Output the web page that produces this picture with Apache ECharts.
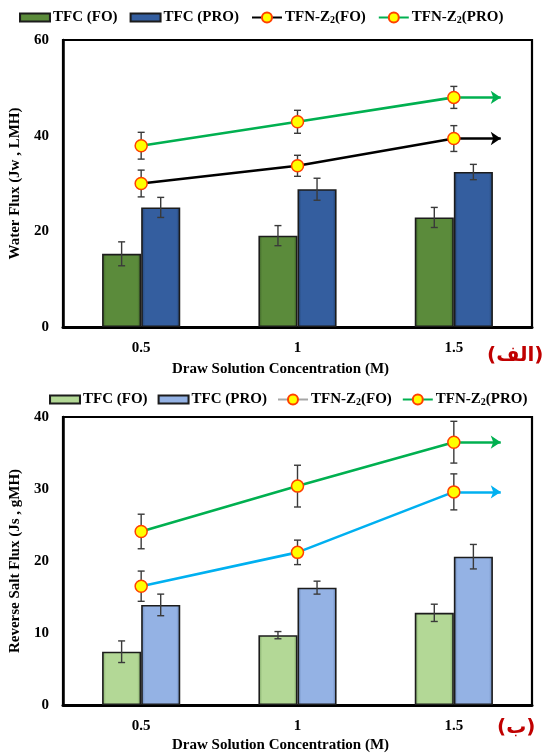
<!DOCTYPE html>
<html>
<head>
<meta charset="utf-8">
<script src="https://cdn.jsdelivr.net/npm/echarts@6/dist/echarts.min.js"></script>
<style>
  html, body { margin: 0; padding: 0; background: #fff; }
  #c1 { width: 545px; height: 380px; }
  #c2 { width: 545px; height: 374px; }
</style>
</head>
<body>
<div id="c1"></div>
<div id="c2"></div>
<script>
// ---------- data ----------
const categories = ['0.5', '1', '1.5'];

// Top panel: water flux (Jw, LMH)
const waterTfcFO      = [15.3, 19.1, 22.9];
const waterTfcFOErr   = [2.5, 2.1, 2.1];
const waterTfcPRO     = [25.0, 28.8, 32.4];
const waterTfcPROErr  = [2.1, 2.3, 1.6];
const waterTfnFO      = [30.0, 33.7, 39.4];
const waterTfnFOErr   = [2.8, 2.2, 2.7];
const waterTfnPRO     = [37.9, 42.9, 48.0];
const waterTfnPROErr  = [2.8, 2.4, 2.3];

// Bottom panel: reverse salt flux (Js, gMH)
const saltTfcFO       = [7.4, 9.7, 12.8];
const saltTfcFOErr    = [1.5, 0.5, 1.2];
const saltTfcPRO      = [13.9, 16.3, 20.6];
const saltTfcPROErr   = [1.5, 0.9, 1.7];
const saltTfnFO       = [16.5, 21.2, 29.6];
const saltTfnFOErr    = [2.1, 1.7, 2.5];
const saltTfnPRO      = [24.1, 30.4, 36.5];
const saltTfnPROErr   = [2.4, 2.9, 2.9];

const topYAxis = { min: 0, max: 60, interval: 20 };
const bottomYAxis = { min: 0, max: 40, interval: 10 };
const arrowEnd = 2.8; // end of the trend arrow on the hidden value x-axis (category i centred at i+0.5)

// ---------- helpers ----------
const SERIF = "'Liberation Serif', 'Times New Roman', serif";
const RECT_ICON = 'path://M0,0L30,0L30,8L0,8Z';

function barGrad(mid, dark) {
  return {
    type: 'linear', x: 0, y: 0, x2: 1, y2: 0,
    colorStops: [
      { offset: 0, color: dark },
      { offset: 0.1, color: mid },
      { offset: 0.9, color: mid },
      { offset: 1, color: dark }
    ]
  };
}

function errBarSeries(vals, errs, offsetFrac, xAxisIndex, onValueAxis) {
  return {
    type: 'custom',
    xAxisIndex: xAxisIndex,
    yAxisIndex: 0,
    z: 3,
    silent: true,
    animation: false,
    data: vals.map((v, i) => [onValueAxis ? i + 0.5 : i, v - errs[i], v + errs[i]]),
    renderItem: function (params, api) {
      const xv = api.value(0);
      const lo = api.coord([xv, api.value(1)]);
      const hi = api.coord([xv, api.value(2)]);
      let x = lo[0];
      if (!onValueAxis) {
        const band = api.size([1, 0])[0];
        x += band * offsetFrac;
      }
      const cap = 3.5;
      const st = { stroke: '#3a3a3a', lineWidth: 1.4 };
      return {
        type: 'group',
        children: [
          { type: 'line', shape: { x1: x, y1: lo[1], x2: x, y2: hi[1] }, style: st },
          { type: 'line', shape: { x1: x - cap, y1: hi[1], x2: x + cap, y2: hi[1] }, style: st },
          { type: 'line', shape: { x1: x - cap, y1: lo[1], x2: x + cap, y2: lo[1] }, style: st }
        ]
      };
    }
  };
}

function lineSeries(name, vals, color) {
  const last = vals[vals.length - 1];
  return {
    name: name,
    type: 'line',
    xAxisIndex: 1,
    yAxisIndex: 0,
    z: 5,
    data: vals.map((v, i) => [i + 0.5, v]),
    symbol: 'circle',
    symbolSize: 12,
    lineStyle: { color: color, width: 2.6 },
    itemStyle: { color: '#FFFF00', borderColor: '#FF4000', borderWidth: 1.5 },
    animation: false,
    markLine: {
      silent: true,
      symbol: ['none', 'arrow'],
      symbolSize: 10,
      label: { show: false },
      lineStyle: { color: color, width: 2.6, type: 'solid' },
      animation: false,
      data: [[{ coord: [vals.length - 0.5, last] }, { coord: [arrowEnd, last] }]]
    }
  };
}

function barSeries(name, vals, mid, dark) {
  return {
    name: name,
    type: 'bar',
    xAxisIndex: 0,
    yAxisIndex: 0,
    barWidth: '25%',
    barGap: '0%',
    z: 2,
    data: vals,
    itemStyle: {
      color: barGrad(mid, dark),
      borderColor: '#1c1c1c',
      borderWidth: 1.6
    },
    animation: false
  };
}

function fmtName(name) {
  const m = name.match(/^TFN-Z2(.*)$/);
  if (m) return '{a|TFN-Z}{s|2}{a|' + m[1] + '}';
  return '{a|' + name + '}';
}

function buildOption(p) {
  return {
    backgroundColor: '#fff',
    animation: false,
    legend: {
      left: p.legendLeft,
      top: p.legendTop,
      itemWidth: 30,
      itemHeight: 12.5,
      itemGap: p.legendGap,
      selectedMode: false,
      data: p.legendData,
      formatter: fmtName,
      textStyle: {
        fontFamily: SERIF, fontWeight: 'bold', fontSize: 15, color: '#000',
        padding: [0, 0, 0, -2],
        rich: {
          a: { fontFamily: SERIF, fontWeight: 'bold', fontSize: 15, color: '#000' },
          s: { fontFamily: SERIF, fontWeight: 'bold', fontSize: 10, color: '#000', verticalAlign: 'bottom', padding: [6, 0, 0, 0] }
        }
      }
    },
    grid: {
      left: 63, right: 13, top: p.gridTop, height: p.gridHeight,
      show: true, borderColor: '#000', borderWidth: 2.2, backgroundColor: 'transparent'
    },
    xAxis: [
      {
        type: 'category',
        data: categories,
        axisLine: { lineStyle: { color: '#000', width: 3 } },
        axisTick: { show: false },
        axisLabel: { color: '#000', fontFamily: SERIF, fontWeight: 'bold', fontSize: 15, margin: 14 },
        splitLine: { show: false }
      },
      { type: 'value', min: 0, max: categories.length, show: false }
    ],
    yAxis: [{
      type: 'value',
      min: p.yAxis.min, max: p.yAxis.max, interval: p.yAxis.interval,
      name: p.yName,
      nameLocation: 'middle',
      nameGap: 31,
      nameTextStyle: { color: '#000', fontFamily: SERIF, fontWeight: 'bold', fontSize: 15 },
      axisLine: { show: true, lineStyle: { color: '#000', width: 2.5 } },
      axisTick: { show: false },
      axisLabel: { color: '#000', fontFamily: SERIF, fontWeight: 'bold', fontSize: 15, margin: 14 },
      splitLine: { show: false }
    }],
    graphic: [
      {
        type: 'text', left: 172, top: p.xTitleTop,
        style: { text: 'Draw Solution Concentration (M)', fill: '#000', font: 'bold 15px ' + SERIF }
      },
      {
        type: 'text', left: p.tagLeft, top: p.tagTop,
        style: { text: p.tag, fill: '#C00000', font: 'bold 20px "DejaVu Sans", sans-serif' }
      }
    ],
    series: p.series
  };
}

// ---------- top chart ----------
const c1 = echarts.init(document.getElementById('c1'), null, { renderer: 'canvas' });
c1.setOption(buildOption({
  legendLeft: 14, legendTop: 5, legendGap: 12,
  legendData: [
    { name: 'TFC (FO)', icon: RECT_ICON },
    { name: 'TFC (PRO)', icon: RECT_ICON },
    'TFN-Z2(FO)', 'TFN-Z2(PRO)'],
  gridTop: 40, gridHeight: 287,
  yAxis: topYAxis,
  yName: 'Water Flux (Jw , LMH)',
  xTitleTop: 362,
  tag: '(الف)', tagLeft: 487, tagTop: 346,
  series: [
    barSeries('TFC (FO)', waterTfcFO, '#5B8B3B', '#3E6427'),
    barSeries('TFC (PRO)', waterTfcPRO, '#345E9F', '#22416f'),
    errBarSeries(waterTfcFO, waterTfcFOErr, -0.125, 0, false),
    errBarSeries(waterTfcPRO, waterTfcPROErr, 0.125, 0, false),
    errBarSeries(waterTfnFO, waterTfnFOErr, 0, 1, true),
    errBarSeries(waterTfnPRO, waterTfnPROErr, 0, 1, true),
    lineSeries('TFN-Z2(FO)', waterTfnFO, '#000000'),
    lineSeries('TFN-Z2(PRO)', waterTfnPRO, '#00B050')
  ]
}));

// ---------- bottom chart ----------
const c2 = echarts.init(document.getElementById('c2'), null, { renderer: 'canvas' });
c2.setOption(buildOption({
  legendLeft: 44, legendTop: 7, legendGap: 10,
  legendData: [
    { name: 'TFC (FO)', icon: RECT_ICON },
    { name: 'TFC (PRO)', icon: RECT_ICON },
    { name: 'TFN-Z2(FO)', lineStyle: { color: '#A6A6A6' } },
    'TFN-Z2(PRO)'],
  gridTop: 37, gridHeight: 288,
  yAxis: bottomYAxis,
  yName: 'Reverse Salt Flux (Js , gMH)',
  xTitleTop: 358,
  tag: '(ب)', tagLeft: 497, tagTop: 338,
  series: [
    barSeries('TFC (FO)', saltTfcFO, '#B3D896', '#7fa866'),
    barSeries('TFC (PRO)', saltTfcPRO, '#94B2E4', '#6683b5'),
    errBarSeries(saltTfcFO, saltTfcFOErr, -0.125, 0, false),
    errBarSeries(saltTfcPRO, saltTfcPROErr, 0.125, 0, false),
    errBarSeries(saltTfnFO, saltTfnFOErr, 0, 1, true),
    errBarSeries(saltTfnPRO, saltTfnPROErr, 0, 1, true),
    lineSeries('TFN-Z2(FO)', saltTfnFO, '#00B0F0'),
    lineSeries('TFN-Z2(PRO)', saltTfnPRO, '#00B050')
  ]
}));
</script>
</body>
</html>
